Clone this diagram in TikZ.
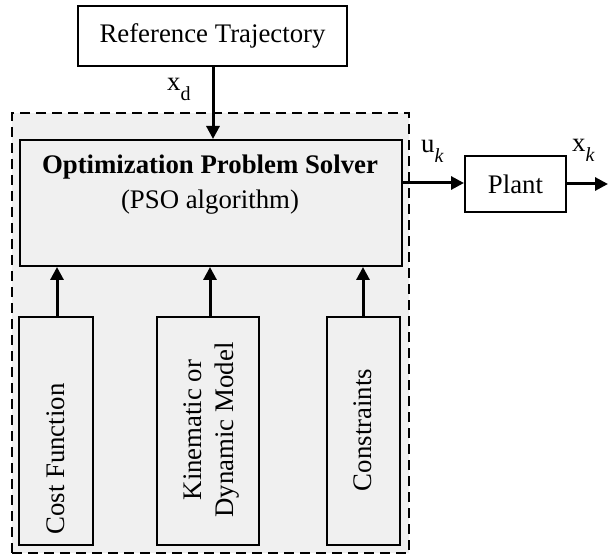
\documentclass[tikz,border=0pt]{standalone}
\usepackage{fontspec}
\setmainfont{Liberation Serif}
\usetikzlibrary{arrows.meta}
\definecolor{panel}{RGB}{240,240,240}
\newcommand{\lowsub}[1]{\raisebox{-9.5pt}{\fontsize{20}{20}\selectfont #1}}
\tikzset{
  blk/.style={draw, line width=2pt, inner sep=0pt},
  flow/.style={line width=3pt, -{Triangle[length=13pt,width=13pt]}},
  txt/.style={inner sep=0pt, font=\fontsize{26.8}{32}\selectfont},
}
\begin{document}
\begin{tikzpicture}[x=1pt,y=-1pt]
\useasboundingbox (0,0) rectangle (608,556);
% dashed controller region
\node[draw, dashed, dash pattern=on 10pt off 6pt, line width=2pt, fill=panel,
      minimum width=397pt, minimum height=440pt, inner sep=0pt] (ctrl) at (210.5,333) {};
% boxes
\node[blk, fill=white, minimum width=269pt, minimum height=60pt] (ref) at (212.5,36) {};
\node[txt] (reftxt) at (212.5,36) {Reference Trajectory};
\node[blk, fill=panel, minimum width=382pt, minimum height=126pt] (main) at (211,203) {};
\node[txt, font=\fontsize{26.8}{32}\selectfont\bfseries] (opt) at (210,167) {Optimization Problem Solver};
\node[txt] (pso) at (210,202) {(PSO algorithm)};
\node[blk, fill=white, minimum width=101pt, minimum height=56pt] (plant) at (515.5,184) {};
\node[txt] (planttxt) at (515.5,184) {Plant};
\node[blk, fill=panel, minimum width=74pt, minimum height=228pt] (cost) at (56,431) {};
\node[txt, rotate=90] (costtxt) at (56,459) {Cost Function};
\node[blk, fill=panel, minimum width=102pt, minimum height=228pt] (kin) at (208,431) {};
\node[txt, rotate=90, align=center] (kintxt) at (212,430) {Kinematic or\\Dynamic Model};
\node[blk, fill=panel, minimum width=73pt, minimum height=228pt] (cons) at (363.5,431) {};
\node[txt, rotate=90] (constxt) at (363,430) {Constraints};
% labels
\node[txt, anchor=base west] (xd) at (167,91) {x\lowsub{d}};
\node[txt, anchor=base west] (uk) at (421,153) {u\lowsub{\itshape k}};
\node[txt, anchor=base west] (xk) at (572,152) {x\lowsub{\itshape k}};
\coordinate (out) at (608,184);
% connectors
\draw[flow] (ref.south -| 213,0) -- (main.north -| 213,0);
\draw[flow] (main.east |- 0,183) -- (plant.west |- 0,183);
\draw[flow] (plant.east) -- (out);
\draw[flow] (cost.north -| 57,0) -- (main.south -| 57,0);
\draw[flow] (kin.north -| 210,0) -- (main.south -| 210,0);
\draw[flow] (cons.north -| 363,0) -- (main.south -| 363,0);
\end{tikzpicture}
\end{document}
